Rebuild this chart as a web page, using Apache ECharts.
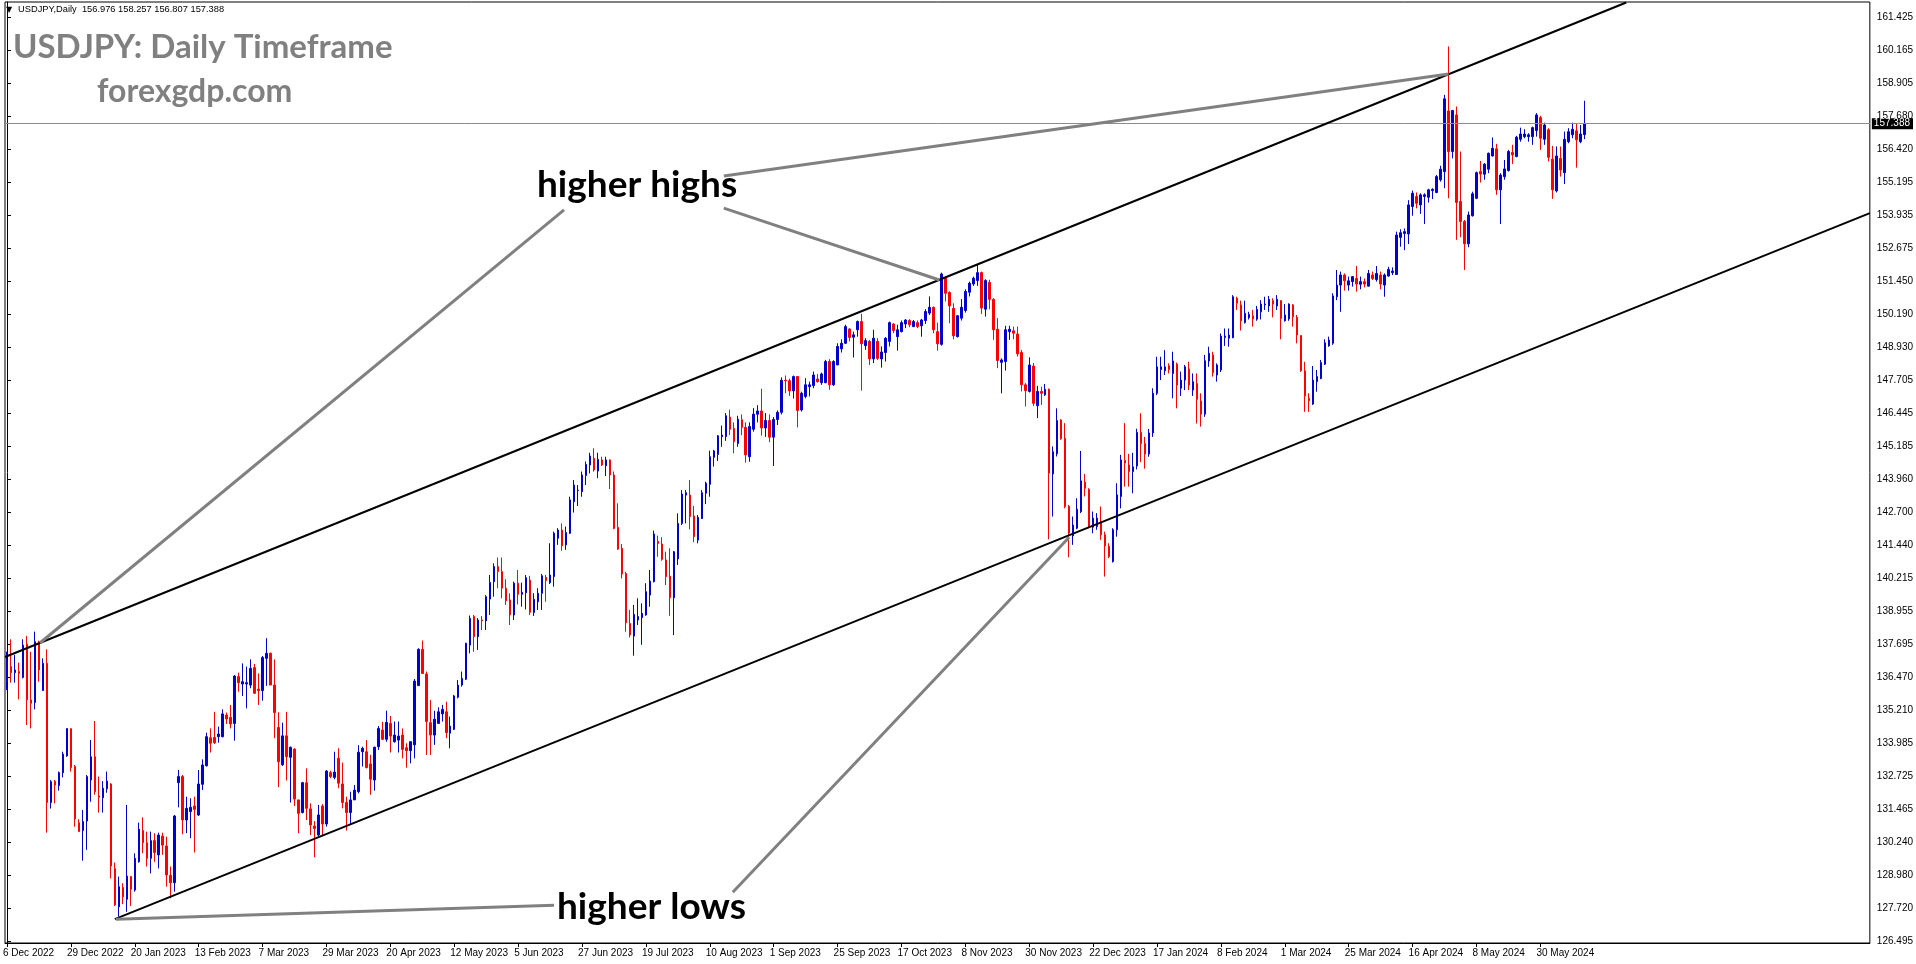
<!DOCTYPE html>
<html>
<head>
<meta charset="utf-8">
<script src="https://cdn.jsdelivr.net/npm/echarts/dist/echarts.min.js"></script>
<style>
html,body{margin:0;padding:0;background:#fff;}
#chart{width:1916px;height:964px;}
</style>
</head>
<body>
<div id="chart"></div>
<script>
// ---------- data ----------
const symbolName = 'USDJPY,Daily';
const dateLabels = ['6 Dec 2022','29 Dec 2022','20 Jan 2023','13 Feb 2023','7 Mar 2023','29 Mar 2023','20 Apr 2023','12 May 2023','5 Jun 2023','27 Jun 2023','19 Jul 2023','10 Aug 2023','1 Sep 2023','25 Sep 2023','17 Oct 2023','8 Nov 2023','30 Nov 2023','22 Dec 2023','17 Jan 2024','8 Feb 2024','1 Mar 2024','25 Mar 2024','16 Apr 2024','8 May 2024','30 May 2024'];
const barsPerLabel = 16;
const totalSlots = 467;
const yTickValues = [161.425,160.165,158.905,157.680,156.420,155.195,153.935,152.675,151.450,150.190,148.930,147.705,146.445,145.185,143.960,142.700,141.440,140.215,138.955,137.695,136.470,135.210,133.985,132.725,131.465,130.240,128.980,127.720,126.495];
const yMin = 126.42, yMax = 161.99;
// candles: [open, close, low, high]
const candles = [
[136.30,137.05,135.98,137.43],[136.87,136.64,136.26,137.90],[136.64,136.74,136.26,137.31],[136.68,136.61,135.63,137.02],[136.46,137.68,136.42,137.90],
[137.72,135.61,134.66,138.03],[135.61,135.48,134.53,137.43],[135.51,137.81,135.25,138.19],[137.81,136.74,136.30,137.85],[135.96,136.99,135.96,137.18],
[136.99,131.73,130.59,137.52],[131.73,132.52,131.50,132.58],[132.53,132.39,131.70,132.58],[132.37,132.86,132.18,132.90],[132.86,133.56,132.68,133.65],
[133.49,134.53,133.46,134.53],[134.52,133.05,132.90,134.53],[133.09,131.11,130.82,133.15],[130.97,130.63,130.63,131.10],[130.67,131.01,129.53,131.45],
[131.03,132.71,129.94,132.77],[132.58,133.46,131.76,134.09],[133.46,132.14,132.02,134.81],[131.98,131.93,131.35,132.71],[131.91,132.27,131.35,132.54],
[132.25,132.54,132.10,132.90],[132.43,129.33,128.86,132.46],[129.23,127.86,127.82,129.46],[127.79,128.55,127.42,128.93],[128.52,128.17,127.89,128.68],
[128.07,128.95,127.60,131.64],[128.93,128.45,127.82,128.95],[128.42,129.62,128.36,129.81],[129.49,130.72,129.46,130.97],[130.67,130.21,129.81,131.17],
[130.21,129.62,129.31,130.63],[129.62,130.29,129.05,130.63],[130.29,129.84,129.49,130.57],[129.75,130.50,129.24,130.59],[130.46,130.12,129.75,130.59],
[130.09,128.99,128.55,130.44],[128.98,128.70,128.11,129.31],[128.70,131.22,128.36,131.26],[132.48,132.71,131.55,132.96],[132.71,131.07,130.53,132.77],
[131.07,131.51,130.57,131.95],[131.39,131.55,130.38,131.89],[131.60,131.47,129.84,131.95],[131.26,132.43,131.22,132.96],[132.42,133.15,132.20,133.36],
[133.12,134.22,133.09,134.37],[134.18,133.97,133.62,134.53],[134.19,133.99,133.94,135.16],[134.22,134.32,133.99,134.60],[134.22,135.08,134.19,135.25],
[135.04,134.89,134.70,135.13],[134.95,134.70,134.53,135.42],[134.72,136.51,134.07,136.55],[136.49,136.26,135.92,136.64],[136.21,136.30,135.76,136.99],
[136.21,136.26,135.29,136.87],[136.17,136.80,136.05,137.14],[136.83,135.86,135.83,136.97],[136.02,135.96,135.42,136.61],[135.96,137.21,135.58,137.27],
[137.18,137.37,136.14,137.94],[137.37,136.17,136.17,137.40],[136.17,135.13,134.16,137.14],[134.57,133.27,132.31,135.14],[133.16,134.25,133.11,134.75],
[134.25,133.46,132.56,135.16],[133.44,133.82,131.73,133.84],[133.75,131.86,131.60,133.78],[131.83,131.32,130.57,131.83],[131.35,132.48,131.32,132.51],
[132.48,131.51,131.07,133.02],[131.49,130.88,130.50,131.70],[130.84,130.75,129.66,131.03],[130.50,131.26,130.46,131.64],[131.60,130.92,130.46,131.67],
[130.92,132.92,130.82,132.96],[132.86,132.71,132.65,132.93],[132.68,132.88,132.61,133.65],[133.40,132.46,132.27,133.78],[132.43,131.73,131.51,133.24],
[131.73,131.35,130.67,131.95],[131.35,131.83,130.88,132.14],[131.83,132.20,131.83,132.39],[132.14,133.63,132.08,133.90],[133.65,133.78,133.09,133.84],
[133.65,133.05,133.02,134.09],[133.19,132.61,132.02,133.53],[132.58,133.82,132.18,133.84],[133.84,134.53,133.72,134.62],[134.47,134.12,134.09,134.78],
[134.12,134.76,134.03,135.20],[134.72,134.24,133.62,135.00],[134.03,134.28,133.99,134.79],[134.09,134.24,133.62,134.79],[134.28,133.74,133.40,134.53],
[133.80,133.69,133.05,133.97],[133.69,134.03,133.21,134.03],[133.91,136.32,133.40,136.40],[136.15,137.52,136.14,137.56],[137.52,136.61,136.59,137.85],
[136.59,134.79,133.53,136.68],[134.75,134.28,133.53,135.61],[134.28,134.88,133.91,135.20],[134.72,135.16,134.72,135.33],[135.08,135.25,134.79,135.42],
[135.16,134.37,134.16,135.54],[134.35,134.62,133.78,134.98],[134.50,135.76,134.47,135.80],[135.71,136.17,135.67,136.36],[136.17,136.42,136.11,136.68],
[136.39,137.75,136.36,137.77],[137.68,138.69,137.37,138.80],[138.76,138.00,137.43,138.82],[138.00,138.63,137.50,138.70],[138.63,138.60,138.25,138.78],
[138.60,139.51,138.25,139.57],[139.42,140.05,138.82,140.33],[140.08,140.65,139.51,140.77],[140.65,140.46,139.83,140.99],[140.46,139.83,139.45,140.99],
[139.83,139.36,139.20,140.17],[139.39,138.82,138.44,139.64],[138.82,140.02,138.63,140.08],[140.02,139.60,139.22,140.52],[139.60,139.68,139.13,140.04],
[139.66,140.23,139.03,140.33],[140.14,138.92,138.82,140.30],[138.91,139.41,138.78,139.64],[139.32,139.64,139.01,139.83],[139.64,140.30,139.01,140.37],
[140.24,140.12,139.32,140.33],[140.04,140.33,139.99,141.53],[140.27,141.91,139.89,141.97],[141.72,142.03,141.47,142.10],[142.03,141.44,141.25,142.28],
[141.47,141.94,141.28,142.16],[141.91,143.17,141.88,143.29],[143.10,143.73,142.69,143.92],[143.52,143.54,142.94,143.73],[143.48,144.11,143.29,144.24],
[144.09,144.51,143.73,144.62],[144.49,144.83,144.17,144.95],[144.74,144.30,144.24,145.12],[144.26,144.70,143.99,144.95],[144.68,144.49,144.45,144.80],
[144.46,144.68,144.07,144.80],[144.68,144.11,143.58,144.70],[144.11,142.09,142.06,144.24],[142.13,141.31,141.28,143.04],[141.34,140.37,140.20,141.50],
[140.39,138.53,138.19,140.45],[138.50,138.06,137.97,139.01],[138.02,138.84,137.28,139.20],[138.63,138.76,138.44,139.45],[138.72,138.88,137.69,139.26],
[138.82,139.70,138.79,140.02],[139.57,140.10,139.13,140.52],[140.08,141.88,140.05,142.01],[141.60,141.52,141.02,141.82],[141.50,140.92,140.87,141.76],
[140.90,140.27,139.95,141.21],[140.29,139.47,138.79,141.34],[139.47,141.21,138.06,141.24],[140.94,142.28,140.71,142.66],[142.28,143.39,142.22,143.54],
[143.35,143.44,142.28,143.54],[143.35,142.54,142.06,143.92],[142.56,141.78,141.57,142.94],[141.65,142.51,141.53,142.60],[142.47,143.44,142.45,143.54],
[143.42,143.80,143.01,143.86],[143.76,144.80,143.29,145.03],[144.78,145.02,144.43,145.06],[144.89,145.59,144.64,145.62],[145.56,145.62,145.18,145.98],
[145.56,146.35,145.40,146.45],[146.30,145.84,145.62,146.58],[145.87,145.37,144.93,146.10],[145.30,146.22,145.18,146.35],[146.20,145.91,145.62,146.40],
[145.91,144.87,144.58,146.10],[144.80,145.94,144.61,146.10],[145.84,146.41,145.75,146.64],[146.41,146.53,146.10,146.75],[146.53,145.89,145.60,147.37],
[145.89,146.17,145.55,146.45],[146.17,145.54,145.35,146.40],[145.54,146.21,144.45,146.30],[146.21,146.48,146.00,146.55],[146.48,147.69,146.40,147.80],
[147.69,147.67,147.20,147.87],[147.67,147.29,147.10,147.75],[147.29,147.83,147.00,147.87],[147.83,146.55,145.91,147.85],[146.57,147.20,146.51,147.26],
[147.08,147.52,147.01,147.77],[147.45,147.52,147.08,147.64],[147.49,147.89,147.39,148.02],[147.74,147.64,147.60,147.93],[147.60,147.93,147.52,147.98],
[147.60,148.40,147.58,148.46],[148.40,147.52,147.33,148.49],[147.52,148.40,147.48,148.45],[148.27,148.97,148.27,149.09],[148.88,149.09,148.74,149.24],
[149.09,149.72,149.07,149.79],[149.63,149.31,149.16,149.66],[149.32,149.41,148.55,149.53],[149.60,149.91,149.34,149.95],[149.91,149.07,147.30,150.20],
[149.00,149.19,148.84,149.28],[149.16,148.50,148.27,149.22],[148.50,149.28,148.34,149.60],[149.16,148.52,148.46,149.28],[148.50,148.76,148.17,148.97],
[148.74,149.28,148.40,149.32],[149.16,149.87,148.97,149.91],[149.82,149.57,149.47,149.85],[149.34,149.60,148.81,149.79],[149.53,149.87,149.50,149.95],
[149.82,149.97,149.66,150.00],[149.95,149.79,149.70,150.00],[149.72,149.91,149.70,149.97],[149.87,149.72,149.66,149.95],[149.75,149.97,149.34,150.01],
[149.95,150.29,149.82,150.38],[150.23,150.45,150.16,150.86],[150.45,149.60,149.47,150.48],[149.53,149.07,148.81,149.87],[149.05,151.71,149.00,151.76],
[151.55,150.98,150.67,151.61],[151.01,150.50,149.85,151.05],[150.41,149.37,149.24,150.60],[149.34,150.13,149.31,150.16],[150.04,150.45,149.95,150.76],
[150.33,151.05,150.25,151.13],[151.02,151.36,150.86,151.42],[151.33,151.55,151.26,151.61],[151.46,151.76,151.26,152.05],[151.76,150.42,150.20,151.80],
[150.38,151.46,150.10,151.51],[151.39,150.75,150.38,151.49],[150.75,149.60,149.22,150.79],[149.62,148.44,148.15,150.04],[148.37,148.46,147.20,148.52],
[148.40,149.60,148.06,149.75],[149.53,149.62,149.22,149.75],[149.56,149.47,149.24,149.72],[149.44,148.69,148.59,149.72],[148.74,147.52,147.27,148.84],
[147.52,147.30,146.70,147.58],[147.27,148.27,147.23,148.56],[148.23,146.82,146.72,148.34],[146.73,147.27,146.26,147.48],[147.27,147.20,146.76,147.45],
[147.14,147.35,147.10,147.55],[147.35,144.18,141.68,147.38],[144.15,144.99,142.54,145.19],[144.91,146.17,144.81,146.63],[146.19,145.48,145.44,146.22],
[145.50,142.92,142.85,146.07],[142.92,141.91,141.00,142.98],[141.81,142.22,141.47,142.54],[142.10,142.82,142.06,143.23],[142.73,143.89,142.67,145.02],
[143.84,143.61,143.30,144.15],[143.57,142.16,142.10,143.61],[142.14,142.48,141.91,142.73],[142.16,142.48,142.04,142.67],[142.35,141.85,141.66,142.92],
[141.85,141.43,140.27,141.97],[141.41,141.03,140.97,141.53],[140.84,142.04,140.80,142.10],[142.04,143.36,141.78,143.80],[143.30,144.68,142.85,144.87],
[144.66,144.56,143.67,146.07],[144.49,144.24,143.67,144.91],[144.24,144.42,143.42,144.95],[144.45,145.72,144.32,145.86],[145.72,145.30,144.60,146.44],
[145.30,144.90,144.35,145.55],[144.90,145.70,144.80,145.85],[145.70,147.20,145.55,147.39],[147.20,148.20,147.13,148.58],[148.10,148.20,147.70,148.58],
[148.05,148.20,147.89,148.83],[148.24,148.10,147.95,148.33],[147.95,148.42,147.01,148.77],[148.30,147.51,146.63,148.36],[147.39,147.70,147.10,148.02],
[147.70,148.20,147.32,148.27],[148.12,147.51,147.32,148.39],[147.32,147.64,147.10,147.95],[147.57,146.97,146.06,147.95],[146.91,146.41,145.94,147.20],
[146.41,148.43,146.31,148.65],[148.42,148.71,148.20,148.96],[148.65,147.98,147.83,148.77],[147.89,148.27,147.64,148.33],[148.08,149.36,148.00,149.46],
[149.31,149.36,148.99,149.65],[149.28,149.40,148.96,149.65],[149.30,150.85,149.28,150.91],[150.79,150.60,150.35,150.85],[150.54,149.94,149.57,150.70],
[149.87,150.22,149.84,150.70],[150.06,150.18,149.99,150.28],[150.13,150.01,149.72,150.35],[150.00,150.37,149.94,150.50],[150.28,150.57,149.99,150.72],
[150.54,150.57,150.35,150.85],[150.50,150.75,150.28,150.88],[150.70,150.57,150.07,150.79],[150.50,150.75,150.35,150.91],[150.70,150.03,149.24,150.72],
[149.94,150.16,149.91,150.57],[150.01,150.57,149.94,150.60],[150.54,150.09,149.72,150.57],[150.07,149.40,149.09,150.16],[149.38,148.05,148.01,149.40],
[148.05,147.10,146.50,148.39],[147.01,146.92,146.50,147.20],[146.79,147.70,146.76,148.23],[147.64,147.83,147.26,148.08],[147.76,148.36,147.73,148.46],
[148.30,149.11,148.27,149.24],[148.99,149.21,148.96,149.34],[149.09,150.88,149.03,150.98],[150.85,151.29,150.72,151.86],[151.29,151.67,150.28,151.80],
[151.67,151.45,151.08,151.73],[151.29,151.45,151.08,151.61],[151.42,151.61,151.23,151.63],[151.54,151.33,151.04,152.01],[151.32,151.42,151.13,151.61],
[151.42,151.33,151.20,151.54],[151.25,151.73,151.23,151.86],[151.67,151.54,151.48,151.80],[151.50,151.73,151.42,152.01],[151.67,151.33,151.13,151.80],
[151.29,151.67,150.85,151.73],[151.63,151.88,151.61,151.98],[151.76,151.82,151.67,151.96],[151.69,153.18,151.67,153.31],[153.09,153.27,152.74,153.40],
[153.24,153.31,152.61,153.43],[153.22,154.32,152.84,154.50],[154.26,154.76,153.91,154.86],[154.64,154.38,154.19,154.79],[154.32,154.70,153.98,154.76],
[154.64,154.70,153.60,154.76],[154.61,154.89,154.41,154.93],[154.86,154.91,154.54,154.95],[154.79,155.39,154.76,155.45],[155.27,155.67,155.20,155.80],
[155.58,158.33,154.95,158.48],[157.87,156.34,154.57,160.31],[156.34,157.89,156.08,157.91],[157.72,154.41,153.00,158.04],[154.45,153.69,153.10,156.34],
[153.69,152.85,151.86,153.75],[152.85,153.94,152.72,154.07],[153.91,154.74,153.88,154.82],[154.57,155.54,154.54,155.58],[155.58,155.49,155.17,155.98],
[155.48,155.86,155.27,155.90],[155.67,156.27,155.52,156.30],[156.17,156.46,156.15,156.87],[156.44,154.89,154.70,156.63],[154.89,155.45,153.60,155.52],
[155.39,155.68,155.27,156.02],[155.62,156.34,155.58,156.40],[156.30,156.21,155.87,156.59],[156.15,156.88,156.12,156.93],[156.80,157.00,156.71,157.24],
[156.90,157.00,156.84,157.18],[156.90,156.97,156.71,157.03],[156.90,157.24,156.59,157.28],[157.13,157.72,156.90,157.79],[157.62,156.84,156.40,157.69],
[156.80,157.34,156.59,157.43],[157.16,156.12,155.96,157.22],[156.05,154.89,154.55,156.55],[154.85,156.17,154.79,156.53],[156.08,155.64,155.39,156.53],
[155.54,156.80,155.11,157.09],[156.71,157.09,156.65,157.22],[156.97,157.18,156.84,157.43],[157.12,156.78,155.73,157.41],[156.71,157.00,156.65,157.34],
[156.976,157.388,156.807,158.257]
];
const lastPrice = 157.388;
// annotation lines in (bar index, price)
const upperChannel = [[-0.5,137.23],[405.5,161.97]];
const lowerChannel = [[27,127.32],[466.5,154.01]];
const higherHighsPointers = [
  [[8.25,137.76],[139.5,154.13]],
  [[179.5,155.41],[361,159.27]],
  [[179.5,154.20],[233.5,151.48]]
];
const higherLowsPointers = [
  [[27.25,127.32],[137,127.85]],
  [[181.75,128.34],[266,141.76]]
];

// ---------- chart ----------
const chart = echarts.init(document.getElementById('chart'), null, {renderer:'canvas'});
const categories = Array.from({length: totalSlots}, (_, i) => String(i));
const isLabelSlot = (i) => i % barsPerLabel === 0 && (i / barsPerLabel) < dateLabels.length;
const last = candles[candles.length - 1];
const headerText = symbolName + '  ' + [last[0], last[3], last[2], last[1]].map(v => v.toFixed(3)).join(' ');
const axisFont = 'Liberation Sans';

const lineSeries = (pts, color, width) => ({
  type: 'line', xAxisIndex: 1, yAxisIndex: 0, data: pts, symbol: 'none', silent: true,
  lineStyle: {color: color, width: width}, z: 5, animation: false
});

const series = [{
  type: 'candlestick',
  data: candles,
  barWidth: 2,
  itemStyle: {color: '#0000CD', color0: '#FF0000', borderColor: '#0000CD', borderColor0: '#FF0000', borderWidth: 1},
  animation: false,
  markLine: {
    symbol: 'none', silent: true, animation: false,
    lineStyle: {color: '#8C8C8C', width: 1, type: 'solid'},
    label: {position: 'end', formatter: lastPrice.toFixed(3), color: '#fff', backgroundColor: '#000',
            fontFamily: axisFont, fontSize: 10, padding: [1, 3, 0, 2], distance: 2},
    data: [{yAxis: lastPrice}]
  }
}];
series.push(lineSeries(upperChannel, '#000', 2));
series.push(lineSeries(lowerChannel, '#000', 2));
higherHighsPointers.forEach(p => series.push(lineSeries(p, '#808080', 3)));
higherLowsPointers.forEach(p => series.push(lineSeries(p, '#808080', 3)));

chart.setOption({
  animation: false,
  backgroundColor: '#fff',
  grid: {left: 2.5, right: 45.5, top: 2, bottom: 21, show: true, borderColor: '#000', borderWidth: 1, backgroundColor: '#fff'},
  xAxis: [{
    type: 'category', data: categories, boundaryGap: true,
    axisLine: {show: true, lineStyle: {color: '#000', width: 1}},
    axisTick: {show: true, interval: (i) => isLabelSlot(i), alignWithLabel: true, length: 4, lineStyle: {color: '#000'}},
    axisLabel: {show: true, interval: (i) => isLabelSlot(i), align: 'left', margin: 5,
      fontFamily: axisFont, fontSize: 10, color: '#000', padding: [0, 0, 0, -4],
      formatter: (v, i) => dateLabels[Number(v) / barsPerLabel] || ''},
    splitLine: {show: false}
  }, {
    type: 'value', min: -0.5, max: totalSlots - 0.5, show: false
  }],
  yAxis: [{
    type: 'value', position: 'right', min: yMin, max: yMax, scale: true,
    axisLine: {show: true, lineStyle: {color: '#000', width: 1}},
    axisTick: {show: true, length: 4, customValues: yTickValues, lineStyle: {color: '#000'}},
    axisLabel: {show: true, customValues: yTickValues, margin: 7, fontFamily: axisFont, fontSize: 10, color: '#000',
      formatter: (v) => Number(v).toFixed(3)},
    splitLine: {show: false}
  }],
  graphic: [
    {type: 'text', left: 6, top: 6, style: {text: '▼', font: '8px "DejaVu Sans"', fill: '#000'}, z: 10},
    {type: 'text', left: 18, top: 5, style: {text: headerText, font: '9.3px "Liberation Sans"', fill: '#000'}, z: 10},
    {type: 'text', left: 13, top: 31, style: {text: 'USDJPY: Daily Timeframe', font: 'bold 33px Lato', fill: '#808080'}, z: 10},
    {type: 'text', left: 97, top: 76, style: {text: 'forexgdp.com', font: 'bold 32px Lato', fill: '#808080'}, z: 10},
    {type: 'text', left: 537, top: 167, style: {text: 'higher highs', font: 'bold 37px Lato', fill: '#000'}, z: 10},
    {type: 'text', left: 557, top: 889, style: {text: 'higher lows', font: 'bold 37px Lato', fill: '#000'}, z: 10}
  ],
  series: series
});
</script>
</body>
</html>
